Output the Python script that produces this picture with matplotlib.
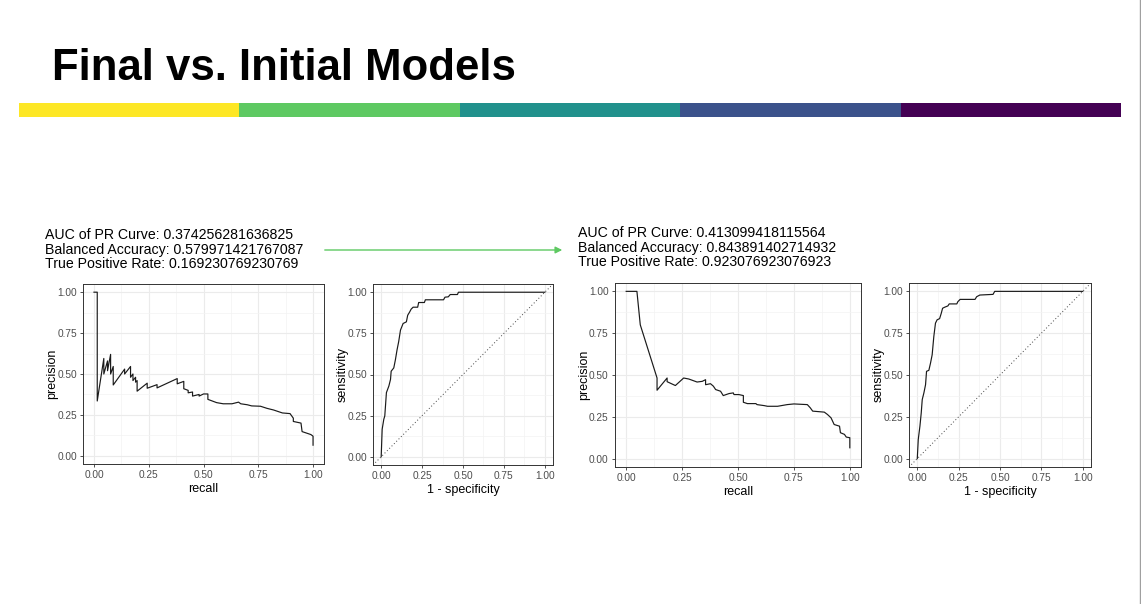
# -*- coding: utf-8 -*-
# Final vs. Initial Models : PR curve and ROC curve, initial (left) and final (right)
import numpy as np
import matplotlib
matplotlib.use("Agg")
import matplotlib.pyplot as plt
from matplotlib.lines import Line2D

plt.rcParams['font.family'] = ['Liberation Sans', 'DejaVu Sans']

# ---- data ----
# initial model, PR curve
pr1_recall = [0, 0.015, 0.015, 0.045, 0.045, 0.062, 0.062, 0.076, 0.076, 0.088, 0.088,
              0.14, 0.14, 0.167, 0.167, 0.178, 0.178, 0.19, 0.19, 0.197, 0.197,
              0.243, 0.243, 0.288, 0.288, 0.38, 0.38, 0.41, 0.41, 0.43, 0.43,
              0.45, 0.45, 0.48, 0.48, 0.50, 0.52, 0.52, 0.54, 0.56, 0.59, 0.63,
              0.66, 0.67, 0.70, 0.72, 0.76, 0.79, 0.82, 0.86, 0.895, 0.91, 0.91,
              0.945, 0.95, 0.99, 1.0, 1.0]
pr1_precision = [1.0, 1.0, 0.335, 0.595, 0.50, 0.58, 0.52, 0.62, 0.50, 0.546, 0.433,
                 0.53, 0.50, 0.546, 0.48, 0.50, 0.46, 0.48, 0.45, 0.46, 0.395,
                 0.444, 0.413, 0.435, 0.415, 0.472, 0.44, 0.455, 0.41, 0.40, 0.385,
                 0.39, 0.365, 0.375, 0.365, 0.378, 0.378, 0.345, 0.335, 0.325, 0.318, 0.318,
                 0.328, 0.318, 0.312, 0.305, 0.303, 0.29, 0.28, 0.262, 0.258, 0.23, 0.21,
                 0.20, 0.148, 0.13, 0.12, 0.065]

# initial model, ROC curve
roc1_fpr = [0, 0.006, 0.016, 0.022, 0.032, 0.047, 0.057, 0.061, 0.077, 0.087, 0.097,
            0.107, 0.118, 0.134, 0.154, 0.162, 0.174, 0.183, 0.195, 0.223, 0.229,
            0.264, 0.27, 0.381, 0.39, 0.41, 0.422, 0.466, 0.472, 1.0]
roc1_tpr = [0, 0.167, 0.228, 0.248, 0.39, 0.43, 0.47, 0.52, 0.54, 0.59, 0.65,
            0.70, 0.77, 0.81, 0.82, 0.86, 0.88, 0.897, 0.909, 0.909, 0.9375,
            0.9375, 0.954, 0.954, 0.97, 0.972, 0.986, 0.986, 1.0, 1.0]

# final model, PR curve
pr2_recall = [0, 0.048, 0.063, 0.138, 0.138, 0.183, 0.183, 0.22, 0.257, 0.28, 0.317,
              0.34, 0.355, 0.355, 0.377, 0.39, 0.40, 0.422, 0.434, 0.46, 0.479,
              0.482, 0.504, 0.524, 0.524, 0.542, 0.58, 0.585, 0.617, 0.632, 0.677,
              0.72, 0.75, 0.81, 0.823, 0.834, 0.886, 0.90, 0.916, 0.93, 0.954,
              0.958, 0.976, 0.984, 1.0, 1.0]
pr2_precision = [1.0, 1.0, 0.80, 0.482, 0.409, 0.482, 0.46, 0.437, 0.482, 0.476, 0.458,
                 0.462, 0.472, 0.442, 0.448, 0.433, 0.413, 0.403, 0.377, 0.389, 0.393,
                 0.383, 0.383, 0.377, 0.337, 0.329, 0.329, 0.323, 0.317, 0.313, 0.313,
                 0.323, 0.327, 0.323, 0.304, 0.284, 0.278, 0.264, 0.244, 0.204, 0.194,
                 0.155, 0.145, 0.129, 0.125, 0.065]

# final model, ROC curve
roc2_fpr = [0, 0.006, 0.016, 0.024, 0.03, 0.04, 0.05, 0.056, 0.07, 0.08, 0.09,
            0.1, 0.11, 0.12, 0.135, 0.145, 0.153, 0.165, 0.185, 0.193, 0.239,
            0.245, 0.259, 0.349, 0.359, 0.378, 0.458, 0.468, 1.0]
roc2_tpr = [0, 0.115, 0.194, 0.274, 0.353, 0.393, 0.442, 0.522, 0.528, 0.571, 0.621,
            0.73, 0.81, 0.83, 0.837, 0.869, 0.899, 0.905, 0.913, 0.925, 0.925,
            0.938, 0.952, 0.952, 0.968, 0.978, 0.982, 1.0, 1.0]

initial_text = ["AUC of PR Curve: 0.374256281636825",
                "Balanced Accuracy: 0.579971421767087",
                "True Positive Rate: 0.169230769230769"]
final_text = ["AUC of PR Curve: 0.413099418115564",
              "Balanced Accuracy: 0.843891402714932",
              "True Positive Rate: 0.923076923076923"]

bar_colors = ["#FDE725", "#5EC962", "#21918C", "#3B528B", "#440154"]
ticks = [0.0, 0.25, 0.5, 0.75, 1.0]
tick_labels = ["0.00", "0.25", "0.50", "0.75", "1.00"]

W, H = 1141, 604
fig = plt.figure(figsize=(W / 100, H / 100), dpi=100)
fig.patch.set_facecolor("white")


def px(x0, y0, x1, y1):
    # pixel box -> figure fraction rect
    return [x0 / W, 1 - y1 / H, (x1 - x0) / W, (y1 - y0) / H]


def style_bw(ax, xlabel, ylabel):
    # theme_bw look
    ax.set_xlim(-0.05, 1.05)
    ax.set_ylim(-0.05, 1.05)
    ax.set_xticks(ticks)
    ax.set_yticks(ticks)
    ax.set_xticklabels(tick_labels)
    ax.set_yticklabels(tick_labels)
    ax.set_xticks([0.125, 0.375, 0.625, 0.875], minor=True)
    ax.set_yticks([0.125, 0.375, 0.625, 0.875], minor=True)
    ax.grid(which="major", color="#EBEBEB", lw=0.8)
    ax.grid(which="minor", color="#F3F3F3", lw=0.5)
    ax.set_axisbelow(True)
    ax.tick_params(which="major", labelsize=7.3, colors="#333333", labelcolor="#4D4D4D",
                   length=2.5, width=0.6, pad=2)
    ax.tick_params(which="minor", length=0)
    for s in ax.spines.values():
        s.set_color("#333333")
        s.set_linewidth(0.7)
    ax.set_xlabel(xlabel, fontsize=9, labelpad=2)
    ax.set_ylabel(ylabel, fontsize=9, labelpad=-1)


# PR initial
ax1 = fig.add_axes(px(83, 284, 324, 464))
ax1.plot(pr1_recall, pr1_precision, color="#1a1a1a", lw=0.85)
style_bw(ax1, "recall", "precision")

# ROC initial
ax2 = fig.add_axes(px(373, 284, 553, 465))
ax2.plot(roc1_fpr, roc1_tpr, color="#1a1a1a", lw=0.85)
ax2.axline((0, 0), (1, 1), color="#444444", lw=0.7, ls=(0, (1, 2.4)))
style_bw(ax2, "1 - specificity", "sensitivity")

# PR final
ax3 = fig.add_axes(px(615, 283, 861, 467))
ax3.plot(pr2_recall, pr2_precision, color="#1a1a1a", lw=0.85)
style_bw(ax3, "recall", "precision")

# ROC final
ax4 = fig.add_axes(px(909, 283, 1091, 467))
ax4.plot(roc2_fpr, roc2_tpr, color="#1a1a1a", lw=0.85)
ax4.axline((0, 0), (1, 1), color="#444444", lw=0.7, ls=(0, (1, 2.4)))
style_bw(ax4, "1 - specificity", "sensitivity")

# title and colour strip
fig.text(52 / W, 1 - 80 / H, "Final vs. Initial Models", fontsize=31.5, fontweight="bold",
         ha="left", va="baseline", color="black")
strip = fig.add_axes(px(19, 103, 1121, 117))
strip.barh(0, [1] * len(bar_colors), left=np.arange(len(bar_colors)), height=1,
           color=bar_colors, edgecolor="none")
strip.set_xlim(0, len(bar_colors))
strip.set_ylim(-0.5, 0.5)
strip.axis("off")

# metric text
for i, t in enumerate(initial_text):
    fig.text(45 / W, 1 - (239 + i * 14.7) / H, t, fontsize=10.2, ha="left", va="baseline")
for i, t in enumerate(final_text):
    fig.text(578 / W, 1 - (237 + i * 14.7) / H, t, fontsize=10.2, ha="left", va="baseline")

# arrow between the two blocks
fig.add_artist(matplotlib.patches.FancyArrowPatch((322 / W, 1 - 250 / H), (565 / W, 1 - 250 / H),
                                                  transform=fig.transFigure, arrowstyle="-|>",
                                                  mutation_scale=10, color="#5EC962", lw=1.0))

# slide border on the right
fig.add_artist(Line2D([1139.5 / W, 1139.5 / W], [0, 1], transform=fig.transFigure,
                      color="#A0A0A0", lw=1.0))

fig.savefig("out.png", dpi=100)
